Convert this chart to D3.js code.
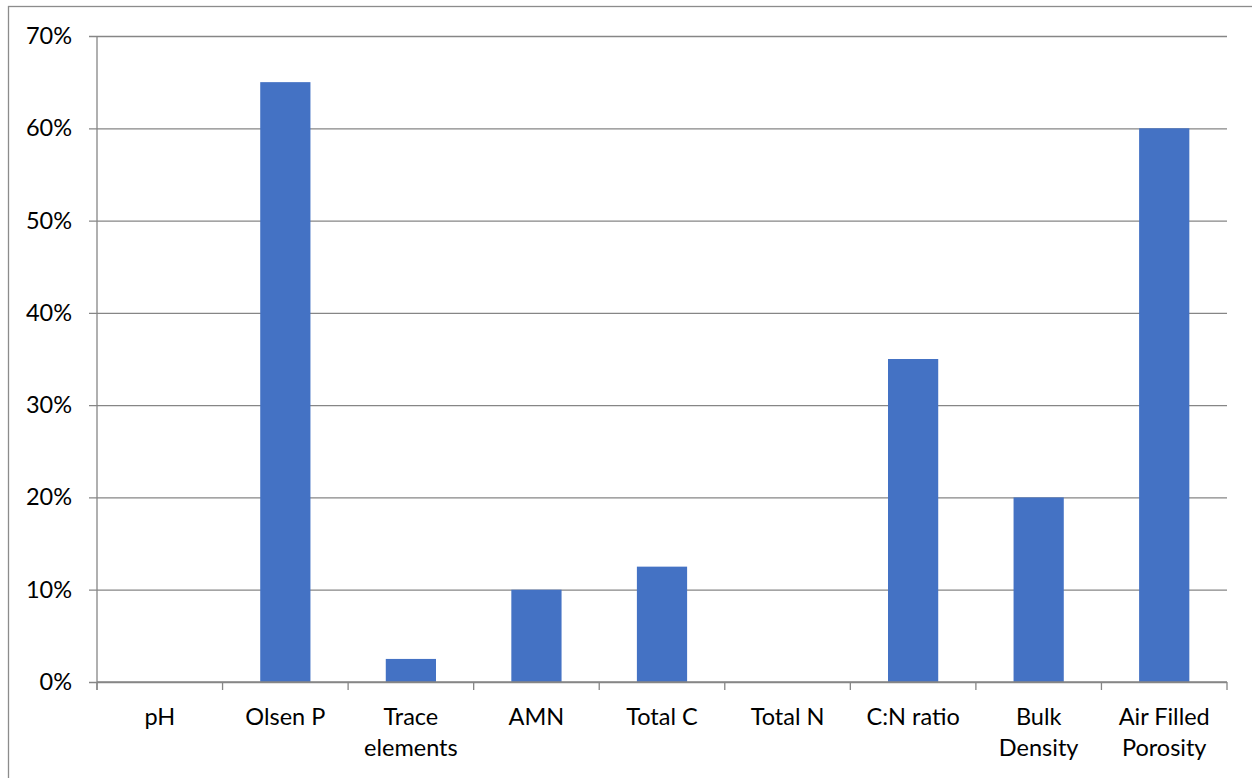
<!DOCTYPE html>
<html>
<head>
<meta charset="utf-8">
<script src="https://cdn.jsdelivr.net/npm/d3@7"></script>
<style>
  body { margin: 0; background: #fff; }
  svg text { font-family: Lato, "Open Sans", sans-serif; fill: #000; }
</style>
</head>
<body>
<div id="chart"></div>
<script>
const categories = ["pH", "Olsen P", "Trace elements", "AMN", "Total C", "Total N", "C:N ratio", "Bulk Density", "Air Filled Porosity"];
const labelLines = [["pH"], ["Olsen P"], ["Trace", "elements"], ["AMN"], ["Total C"], ["Total N"], ["C:N ratio"], ["Bulk", "Density"], ["Air Filled", "Porosity"]];
const values = [0, 0.65, 0.025, 0.10, 0.125, 0, 0.35, 0.20, 0.60];
const yTicks = [0, 0.1, 0.2, 0.3, 0.4, 0.5, 0.6, 0.7];

const width = 1252, height = 778;
const margin = { top: 36, right: 25, bottom: 96, left: 97 };
const gridColor = "#868686";
const fontSize = 23.5;

const svg = d3.select("#chart").append("svg")
    .attr("width", width)
    .attr("height", height);

// outer chart border
svg.append("rect")
    .attr("x", 8.5).attr("y", 6.5)
    .attr("width", width + 10).attr("height", height + 10)
    .attr("fill", "none")
    .attr("stroke", "#8c8c8c")
    .attr("stroke-width", 1.3);

const x = d3.scaleBand()
    .domain(categories)
    .range([margin.left, width - margin.right])
    .paddingInner(0.6)
    .paddingOuter(0.3);

const y = d3.scaleLinear()
    .domain([0, 0.7])
    .range([height - margin.bottom, margin.top]);

// gridlines + y tick marks
const yAxis = d3.axisLeft(y)
    .tickValues(yTicks)
    .tickFormat(d3.format(".0%"))
    .tickSize(-(width - margin.left - margin.right))
    .tickPadding(25);

const gy = svg.append("g")
    .attr("transform", `translate(${margin.left},0)`)
    .call(yAxis);
gy.select(".domain").remove();
gy.selectAll(".tick line")
    .attr("x1", -8)
    .attr("stroke", gridColor)
    .attr("stroke-width", 1.3);
gy.selectAll(".tick text").attr("font-size", fontSize);

// y axis line
svg.append("line")
    .attr("x1", margin.left).attr("x2", margin.left)
    .attr("y1", margin.top).attr("y2", y(0) + 8)
    .attr("stroke", gridColor)
    .attr("stroke-width", 1.3);

// bars
svg.append("g")
    .selectAll("rect")
    .data(values)
    .enter()
    .append("rect")
    .attr("x", (d, i) => x(categories[i]))
    .attr("y", d => y(d))
    .attr("width", x.bandwidth())
    .attr("height", d => y(0) - y(d))
    .attr("fill", "#4472c4");

// x axis baseline and category ticks
const step = x.step();
svg.append("line")
    .attr("x1", margin.left).attr("x2", width - margin.right)
    .attr("y1", y(0)).attr("y2", y(0))
    .attr("stroke", gridColor)
    .attr("stroke-width", 1.3);

svg.append("g")
    .selectAll("line")
    .data(d3.range(categories.length + 1))
    .enter()
    .append("line")
    .attr("x1", i => margin.left + i * step)
    .attr("x2", i => margin.left + i * step)
    .attr("y1", y(0))
    .attr("y2", y(0) + 8)
    .attr("stroke", gridColor)
    .attr("stroke-width", 1.3);

// category labels
const labels = svg.append("g")
    .selectAll("text")
    .data(categories)
    .enter()
    .append("text")
    .attr("x", d => x(d) + x.bandwidth() / 2)
    .attr("y", y(0) + 43)
    .attr("text-anchor", "middle")
    .attr("font-size", fontSize);

labels.selectAll("tspan")
    .data((d, i) => labelLines[i])
    .enter()
    .append("tspan")
    .attr("x", function () { return d3.select(this.parentNode).attr("x"); })
    .attr("dy", (d, i) => i === 0 ? 0 : 31)
    .text(d => d);
</script>
</body>
</html>
